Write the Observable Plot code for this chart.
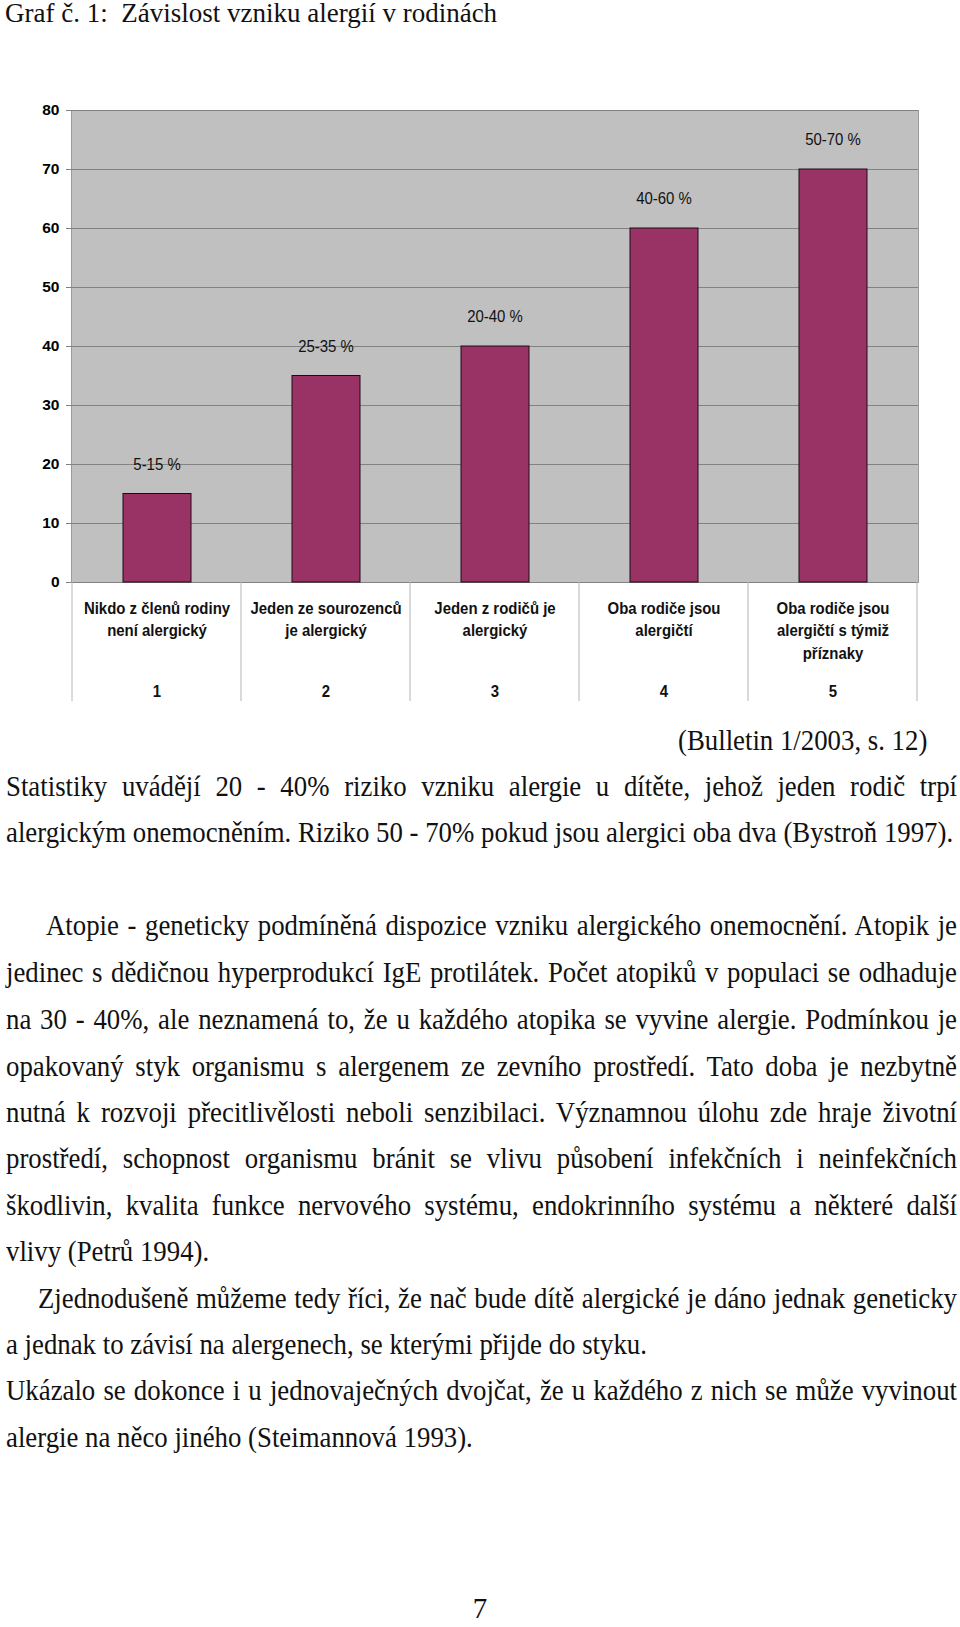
<!DOCTYPE html>
<html><head><meta charset="utf-8">
<script src="https://cdn.jsdelivr.net/npm/d3@7"></script>
<script src="https://cdn.jsdelivr.net/npm/@observablehq/plot@0.6"></script>
<style>
html,body{margin:0;padding:0;background:#fff;}
body{width:960px;height:1627px;position:relative;overflow:hidden;font-family:"Liberation Serif","Times New Roman",serif;color:#111;}
.ln{position:absolute;font-size:29px;line-height:46.5px;white-space:nowrap;transform-origin:0 50%;}
#chart{position:absolute;left:0;top:90px;}
</style></head><body>
<div id="chart"></div>
<script>
// ---- chart data ----
const categories = [
  "Nikdo z členů rodiny\nnení alergický",
  "Jeden ze sourozenců\nje alergický",
  "Jeden z rodičů je\nalergický",
  "Oba rodiče jsou\nalergičtí",
  "Oba rodiče jsou\nalergičtí s týmiž\npříznaky"
];
const categoryNumbers = ["1", "2", "3", "4", "5"];
const values = [15, 35, 40, 60, 70];
const valueLabels = ["5-15 %", "25-35 %", "20-40 %", "40-60 %", "50-70 %"];
const yTicks = [0, 10, 20, 30, 40, 50, 60, 70, 80];

// ---- page text ----
const titleText = "Graf č. 1:  Závislost vzniku alergií v rodinách";
const sourceText = "(Bulletin 1/2003, s. 12)";
const pageNumber = "7";
const bodyLines = [
  {t: "Statistiky uvádějí 20 - 40% riziko vzniku alergie u dítěte, jehož jeden rodič trpí", y: 786.6, j: true},
  {t: "alergickým onemocněním. Riziko 50 - 70% pokud jsou alergici oba dva (Bystroň 1997).", y: 832.3},
  {t: "Atopie - geneticky podmíněná dispozice vzniku alergického onemocnění. Atopik je", y: 925.7, j: true, ind: 40},
  {t: "jedinec s dědičnou hyperprodukcí IgE protilátek. Počet atopiků v populaci se odhaduje", y: 972.4, j: true},
  {t: "na 30 - 40%, ale neznamená to, že u každého atopika se vyvine alergie. Podmínkou je", y: 1019.1, j: true},
  {t: "opakovaný styk organismu s alergenem ze zevního prostředí. Tato doba je nezbytně", y: 1065.8, j: true},
  {t: "nutná k rozvoji přecitlivělosti neboli senzibilaci. Významnou úlohu zde hraje životní", y: 1112.5, j: true},
  {t: "prostředí, schopnost organismu  bránit se vlivu působení infekčních i neinfekčních", y: 1158.2, j: true},
  {t: "škodlivin, kvalita funkce nervového systému, endokrinního systému a některé další", y: 1204.9, j: true},
  {t: "vlivy (Petrů 1994).", y: 1251.6},
  {t: "Zjednodušeně můžeme tedy říci, že nač bude dítě alergické je dáno jednak geneticky", y: 1298.3, j: true, ind: 32},
  {t: "a jednak to závisí na alergenech, se kterými přijde do styku.", y: 1344.0},
  {t: "Ukázalo se dokonce i u jednovaječných dvojčat, že u každého z nich se může vyvinout", y: 1390.7, j: true},
  {t: "alergie na něco jiného (Steimannová 1993).", y: 1437.4}
];

const data = categoryNumbers.map((n, i) => ({n, cat: categories[i], v: values[i], lab: valueLabels[i]}));

const chart = Plot.plot({
  width: 960,
  height: 620,
  marginLeft: 71,
  marginRight: 42,
  marginTop: 20,
  marginBottom: 128,
  x: {type: "band", domain: categoryNumbers, paddingInner: 0, paddingOuter: 0, axis: null},
  y: {domain: [0, 80]},
  style: {fontFamily: "'Liberation Sans', Arial, sans-serif", background: "transparent", overflow: "visible", color: "#000"},
  marks: [
    Plot.frame({fill: "#c0c0c0", stroke: "#9a9a9a"}),
    Plot.ruleY(yTicks, {stroke: "#828282", strokeWidth: 1}),
    Plot.axisY({ticks: yTicks, tickSize: 5, tickPadding: 7, fontSize: 15.5, fontWeight: "bold", stroke: "#808080", fill: "#000", label: null}),
    Plot.barY(data, {x: "n", y: "v", fill: "#993366", stroke: "#1e0a14", strokeWidth: 1, insetLeft: 51, insetRight: 50}),
    Plot.text(data, {x: "n", y: "v", text: "lab", dy: -29.5, fontSize: 17, fill: "#111"}),
    Plot.text(data, {x: "n", text: "cat", frameAnchor: "bottom", lineAnchor: "top", dy: 15, lineHeight: 1.34, fontSize: 17, fontWeight: "bold", fill: "#111"}),
    Plot.text(data, {x: "n", text: "n", frameAnchor: "bottom", dy: 114.5, fontSize: 17, fontWeight: "bold", fill: "#111"})
  ]
});

// narrow the chart's text glyphs horizontally, as in the reference
d3.select(chart).selectAll('g[aria-label="text"] text').each(function () {
  const tr = this.getAttribute("transform") || "";
  this.setAttribute("transform", (tr + " scale(0.88,1)").trim());
});

// category separators below the plot, positioned from Plot's own scales
const xs = chart.scale("x"), ys = chart.scale("y");
const y0 = ys.apply(0);
const bounds = categoryNumbers.map(d => xs.apply(d)).concat([xs.apply(categoryNumbers[categoryNumbers.length - 1]) + xs.bandwidth]);
d3.select(chart).append("g").selectAll("line").data(bounds).join("line")
  .attr("x1", d => d).attr("x2", d => d)
  .attr("y1", y0).attr("y2", y0 + 119)
  .attr("stroke", "#b4b4b4");

document.getElementById("chart").appendChild(chart);

// ---- page text layout ----
const K = 0.924; // horizontal narrowing of the page text
function addLine(text, centerY, lh = 46.5) {
  const el = document.createElement("div");
  el.className = "ln";
  el.style.lineHeight = lh + "px";
  el.style.top = (centerY - lh / 2) + "px";
  const span = document.createElement("span");
  span.textContent = text;
  el.appendChild(span);
  document.body.appendChild(el);
  return {el, w: span.getBoundingClientRect().width};
}
{
  const {el} = addLine(titleText, 13.5, 27);
  el.style.left = "5px";
  el.style.whiteSpace = "pre";
  el.style.fontSize = "27px";
}
{
  const {el, w} = addLine(sourceText, 740);
  el.style.left = (927 - w * K) + "px";
  el.style.transform = `scaleX(${K})`;
}
const LEFT = 6, RIGHT = 957;
for (const L of bodyLines) {
  const {el, w} = addLine(L.t, L.y);
  const ind = L.ind || 0;
  el.style.left = (LEFT + ind) + "px";
  const target = RIGHT - LEFT - ind;
  let k = K;
  if (w * k > target) k = target / w;
  el.style.transform = `scaleX(${k})`;
  if (L.j && w * k <= target) {
    el.textContent = L.t;
    el.style.width = (target / k) + "px";
    el.style.whiteSpace = "normal";
    el.style.textAlign = "justify";
    el.style.textAlignLast = "justify";
  }
}
{
  const {el, w} = addLine(pageNumber, 1608, 22);
  el.style.left = (480 - w / 2) + "px";
}
</script>
</body></html>
